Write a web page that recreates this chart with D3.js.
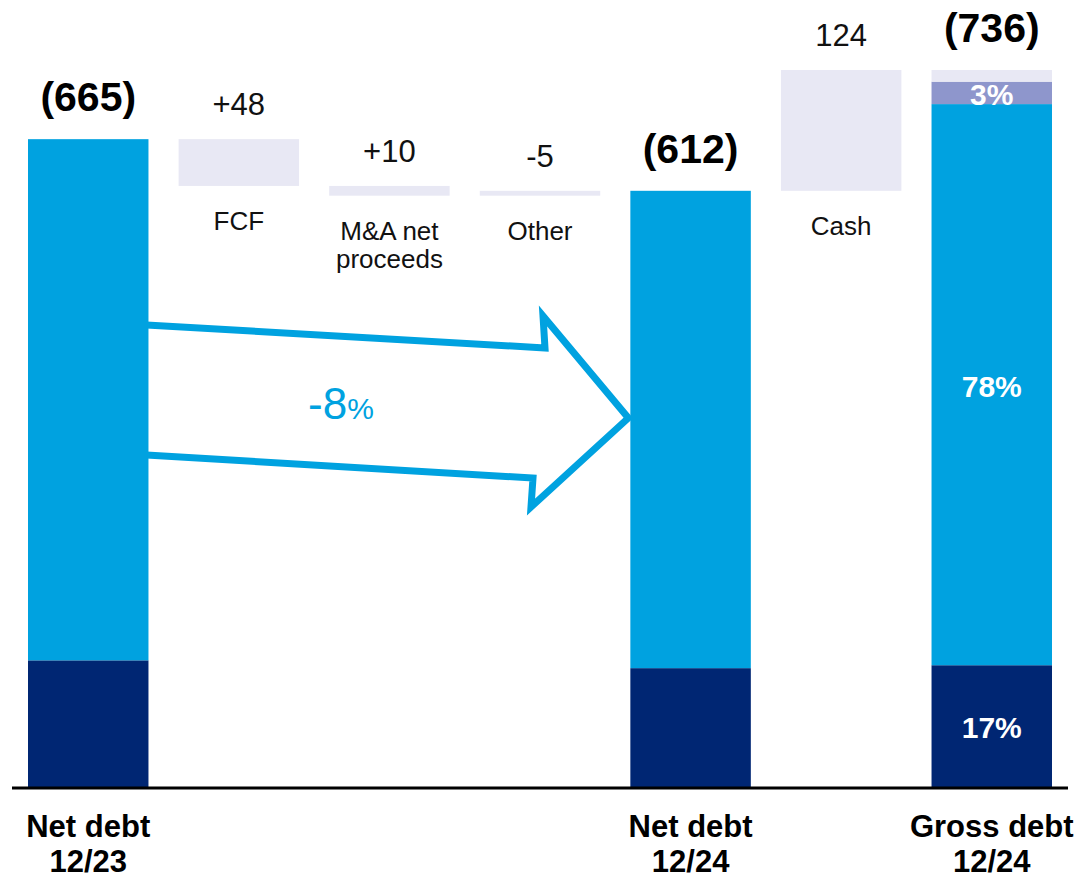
<!DOCTYPE html>
<html>
<head>
<meta charset="utf-8">
<script src="https://cdn.jsdelivr.net/npm/d3@7"></script>
<style>
  body { margin: 0; background: #fff; }
  text { font-family: "Liberation Sans", Arial, sans-serif; }
</style>
</head>
<body>
<div id="chart"></div>
<script>
// categories along the bridge
var categories = ["nd23", "fcf", "ma", "other", "nd24", "cash", "gd24"];

// stacked totals (bottom to top)
var netDebt23 = [130, 535];
var netDebt24 = [122, 490];
var grossDebt24 = [125, 576, 23, 12];
var grossShares = ["17%", "78%", "3%", ""];

// bridge steps between the two net debt bars, then cash up to gross debt
var stepCats = ["fcf", "ma", "other", "cash"];
var stepDeltas = [-48, -10, 5, 124];
var stepValueLabels = ["+48", "+10", "-5", "124"];
var stepNames = [["FCF"], ["M&A net", "proceeds"], ["Other"], ["Cash"]];

var totalLabels = ["(665)", "(612)", "(736)"];
var bottomLabels = [["Net debt", "12/23"], ["Net debt", "12/24"], ["Gross debt", "12/24"]];

var blue = "#00a2e0", navy = "#002673", lav = "#e8e8f4", purple = "#8e96cc";

var W = 1081, H = 877;
var svg = d3.select("#chart").append("svg").attr("width", W).attr("height", H);

var x = d3.scaleBand().domain(categories).range([28, 1052]).paddingInner(0.2).paddingOuter(0);
var y = d3.scaleLinear().domain([0, 736]).range([787, 70]);
var bw = x.bandwidth();

// arrow (drawn first, bars cover its ends)
var ax0 = x("nd23") + bw, ax1 = x("nd24");
var arrow = [
  [ax0 - 2, 325], [545, 348], [543, 316], [ax1 - 2, 418],
  [531, 507], [533, 478], [ax0 - 2, 455]
];
svg.append("path")
  .attr("d", d3.line()(arrow))
  .attr("fill", "none")
  .attr("stroke", blue)
  .attr("stroke-width", 7)
  .attr("stroke-linejoin", "miter")
  .attr("stroke-miterlimit", 10);

var pct = svg.append("text").attr("x", 308).attr("y", 419).attr("fill", blue);
pct.append("tspan").attr("font-size", 44).text("-8");
pct.append("tspan").attr("font-size", 30).text("%");

// stacked bars
function stack(cat, vals, colors) {
  var acc = 0;
  vals.forEach(function(v, i) {
    svg.append("rect")
      .attr("x", x(cat))
      .attr("width", bw)
      .attr("y", y(acc + v))
      .attr("height", y(acc) - y(acc + v))
      .attr("fill", colors[i]);
    acc += v;
  });
  return acc;
}

var t1 = stack("nd23", netDebt23, [navy, blue]);
var t2 = stack("nd24", netDebt24, [navy, blue]);
var t3 = stack("gd24", grossDebt24, [navy, blue, purple, lav]);

// share labels inside gross debt bar
var acc = 0;
grossDebt24.forEach(function(v, i) {
  var mid = (y(acc) + y(acc + v)) / 2;
  if (grossShares[i]) {
    svg.append("text")
      .attr("x", x("gd24") + bw / 2)
      .attr("y", mid)
      .attr("dy", "0.4em")
      .attr("text-anchor", "middle")
      .attr("font-size", 30)
      .attr("font-weight", "bold")
      .attr("fill", "#fff")
      .text(grossShares[i]);
  }
  acc += v;
});

// floating step bars
var level = t1;
stepCats.forEach(function(c, i) {
  var start = c == "cash" ? t2 : level;
  var end = start + stepDeltas[i];
  var lo = Math.min(start, end), hi = Math.max(start, end);
  svg.append("rect")
    .attr("x", x(c))
    .attr("width", bw)
    .attr("y", y(hi))
    .attr("height", y(lo) - y(hi))
    .attr("fill", lav);
  svg.append("text")
    .attr("x", x(c) + bw / 2)
    .attr("y", y(hi) - 24)
    .attr("text-anchor", "middle")
    .attr("font-size", 31)
    .attr("fill", "#111")
    .text(stepValueLabels[i]);
  var nm = svg.append("text")
    .attr("x", x(c) + bw / 2)
    .attr("y", y(lo) + 44)
    .attr("text-anchor", "middle")
    .attr("font-size", 26)
    .attr("fill", "#111");
  stepNames[i].forEach(function(s, j) {
    nm.append("tspan").attr("x", x(c) + bw / 2).attr("dy", j ? 28 : 0).text(s);
  });
  if (c != "cash") level = end;
});

// totals above bars
[["nd23", t1], ["nd24", t2], ["gd24", t3]].forEach(function(d, i) {
  svg.append("text")
    .attr("x", x(d[0]) + bw / 2)
    .attr("y", y(d[1]) - 28)
    .attr("text-anchor", "middle")
    .attr("font-size", 41)
    .attr("font-weight", "bold")
    .attr("fill", "#000")
    .text(totalLabels[i]);
});

// baseline
svg.append("line")
  .attr("x1", 12).attr("x2", 1068)
  .attr("y1", y(0) + 1).attr("y2", y(0) + 1)
  .attr("stroke", "#000")
  .attr("stroke-width", 3);

// bottom labels
["nd23", "nd24", "gd24"].forEach(function(c, i) {
  var t = svg.append("text")
    .attr("x", x(c) + bw / 2)
    .attr("y", 837)
    .attr("text-anchor", "middle")
    .attr("font-size", 31)
    .attr("font-weight", "bold")
    .attr("fill", "#000");
  bottomLabels[i].forEach(function(s, j) {
    t.append("tspan").attr("x", x(c) + bw / 2).attr("dy", j ? 35 : 0).text(s);
  });
});
</script>
</body>
</html>
